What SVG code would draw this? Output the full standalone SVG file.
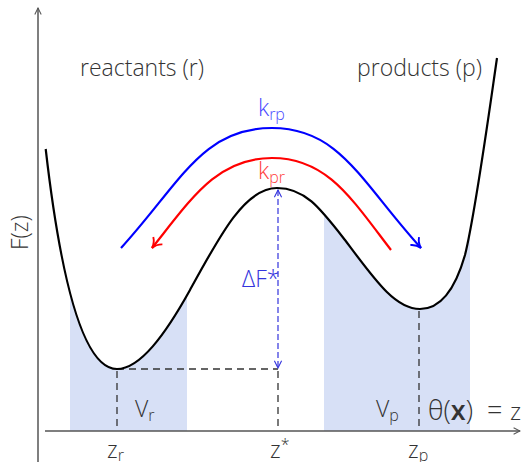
<svg xmlns="http://www.w3.org/2000/svg" width="526" height="462" viewBox="0 0 526 462">
<style>
  text { font-family: "Open Sans", "Liberation Sans", sans-serif; font-weight: 300; fill: #333; }
  .lbl { font-size: 23px; }
  .sub { font-size: 16px; }
  .axis { stroke: #555; stroke-width: 1.5; fill: none; }
  .dash { stroke: #333; stroke-width: 1.3; stroke-dasharray: 7 5; fill: none; }
  .curve { stroke: #000; stroke-width: 2.2; fill: none; }
  .shade { fill: #d7e0f6; }
</style>
<defs>
  <marker id="axhead" viewBox="0 0 10 10" refX="9" refY="5" markerWidth="8" markerHeight="8" markerUnits="userSpaceOnUse" orient="auto">
    <path d="M1,1 L9,5 L1,9" fill="none" stroke="#555" stroke-width="1.3"/>
  </marker>
  <marker id="bhead" viewBox="0 0 12 12" refX="10" refY="6" markerWidth="14" markerHeight="14" markerUnits="userSpaceOnUse" orient="auto">
    <path d="M2,1 Q5,5 10,6 Q5,7 2,11" fill="none" stroke="#0000ff" stroke-width="1.6"/>
  </marker>
  <marker id="rhead" viewBox="0 0 12 12" refX="10" refY="6" markerWidth="14" markerHeight="14" markerUnits="userSpaceOnUse" orient="auto">
    <path d="M2,1 Q5,5 10,6 Q5,7 2,11" fill="none" stroke="#ff0000" stroke-width="1.6"/>
  </marker>
  <marker id="dhead" viewBox="0 0 10 10" refX="9" refY="5" markerWidth="9" markerHeight="9" markerUnits="userSpaceOnUse" orient="auto-start-reverse">
    <path d="M1,1 L9,5 L1,9" fill="none" stroke="#3333dd" stroke-width="1.2"/>
  </marker>
  <clipPath id="under">
    <path d="M45.7,149 C55,230 75,369 117,369 C140,369 165,335 190,290 C220,235 245,188 277,188 C305,188 320,208 345,240 C375,280 395,309 420,309 C440,309 455,290 465,255 C475,215 488,120 497,58 L497,431 L45.7,431 Z"/>
  </clipPath>
</defs>

<g id="shading" clip-path="url(#under)">
  <rect class="shade" x="70" y="50" width="117" height="381"/>
  <rect class="shade" x="324" y="50" width="146" height="381"/>
</g>

<g id="axes">
  <line class="axis" x1="38" y1="462" x2="38" y2="8" marker-end="url(#axhead)"/>
  <line class="axis" x1="45" y1="431" x2="520" y2="431" marker-end="url(#axhead)"/>
</g>

<g id="connectors">
  <path class="dash" d="M117,369 H278"/>
  <path class="dash" d="M117,371 V431"/>
  <path class="dash" d="M278,371 V431"/>
  <path class="dash" d="M419,311 V431"/>
  <path d="M278,190 V368" stroke="#3333dd" stroke-width="1.2" stroke-dasharray="6 3" fill="none" marker-start="url(#dhead)" marker-end="url(#dhead)"/>
  <path d="M121,248 C181,182 202,128 272,128 C340,128 361,182 421,248" fill="none" stroke="#0000ff" stroke-width="2.2" marker-end="url(#bhead)"/>
  <path d="M391,250 C351,198 327,158 272,158 C217,158 192,198 152,248" fill="none" stroke="#ff0000" stroke-width="2.2" marker-end="url(#rhead)"/>
</g>

<g id="curve">
  <path class="curve" d="M45.7,149 C55,230 75,369 117,369 C140,369 165,335 190,290 C220,235 245,188 277,188 C305,188 320,208 345,240 C375,280 395,309 420,309 C440,309 455,290 465,255 C475,215 488,120 497,58"/>
</g>

<g id="reactants"><text class="lbl" x="80" y="76">reactants (r)</text></g>
<g id="products"><text class="lbl" x="357" y="76">products (p)</text></g>
<g id="krp"><text class="lbl" x="258" y="116" style="fill:#4a4aff">k<tspan class="sub" dy="4">rp</tspan></text></g>
<g id="kpr"><text class="lbl" x="258" y="179" style="fill:#ff4040">k<tspan class="sub" dy="4">pr</tspan></text></g>
<g id="dF"><text class="lbl" x="242" y="287" style="fill:#3333dd">ΔF*</text></g>
<g id="Fz"><text class="lbl" transform="translate(28,250) rotate(-90)">F(z)</text></g>
<g id="Vr"><text class="lbl" x="135" y="417">V<tspan class="sub" dy="4">r</tspan></text></g>
<g id="Vp"><text class="lbl" x="376" y="417">V<tspan class="sub" dy="4">p</tspan></text></g>
<g id="theta"><text class="lbl" x="428" y="420" style="font-size:27px">θ(<tspan font-weight="600">x</tspan>)<tspan x="487">=</tspan><tspan x="510" style="font-size:24px">z</tspan></text></g>
<g id="zr"><text class="lbl" x="107" y="458">z<tspan class="sub" dy="3">r</tspan></text></g>
<g id="zs"><text class="lbl" x="270" y="458">z<tspan class="sub" dy="-8">*</tspan></text></g>
<g id="zp"><text class="lbl" x="408" y="458">z<tspan class="sub" dy="3">p</tspan></text></g>
</svg>
